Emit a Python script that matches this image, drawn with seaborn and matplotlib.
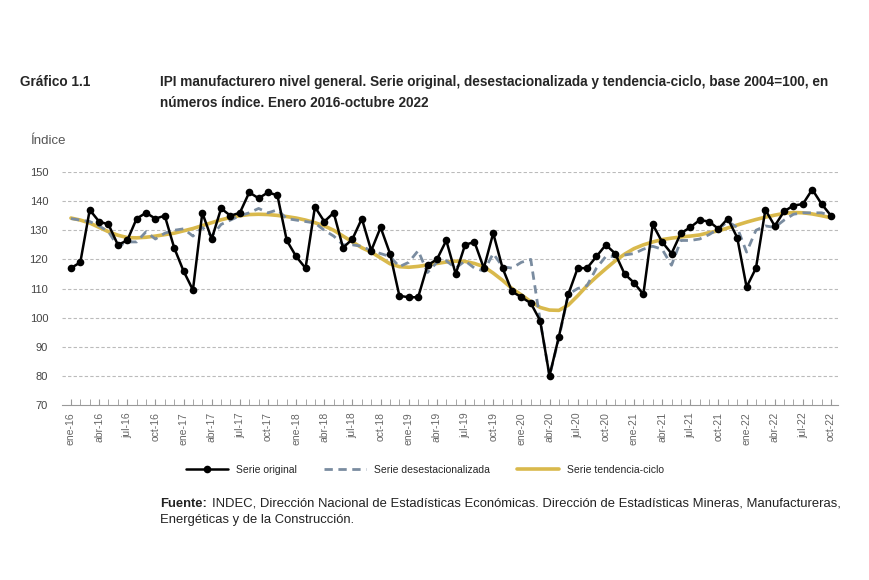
import numpy as np
import pandas as pd
import seaborn as sns
import matplotlib.pyplot as plt
from matplotlib import font_manager

meses = ['ene', 'feb', 'mar', 'abr', 'may', 'jun', 'jul', 'ago', 'sep', 'oct', 'nov', 'dic']
periodos = [f'{m}-{a}' for a in range(16, 23) for m in meses][:82]

original = [117, 119, 137, 133, 132, 125, 126.5, 134, 136, 134, 135, 124,
            116, 109.5, 136, 127, 137.5, 135, 136, 143, 141, 143, 142, 126.5,
            121, 117, 138, 133, 136, 124, 127, 134, 123, 131, 122, 107.5,
            107, 107, 118, 120, 126.5, 115, 125, 126, 117, 129, 117, 109,
            107, 105, 99, 80, 93.5, 108, 117, 117, 121, 125, 122, 115,
            112, 108, 132, 126, 122, 129, 131, 133.5, 133, 130.5, 134, 127.5,
            110.5, 117, 137, 131.5, 136.5, 138.5, 139, 144, 139, 135]

desest = [134, 133.5, 133, 131.5, 129.5, 124.5, 126, 126, 129.5, 127, 129, 130,
          130.5, 128, 131, 128, 132, 133.5, 135, 136, 137.5, 136, 137, 134,
          133.5, 133, 132.5, 130, 128, 125, 125, 124.5, 123, 122, 121, 117.5,
          119, 123, 115.5, 119, 119.5, 117, 119.5, 117, 116, 122, 117.5, 117,
          119, 120, 99, 80, 93, 108, 110, 111, 117, 121, 121, 121.5,
          122, 123.5, 124.5, 123.5, 118, 126.5, 126.5, 127, 128.5, 130.5, 133, 131,
          122.5, 130, 131.5, 131, 133.5, 135.5, 136, 136, 136, 135]

tendencia = [134.2, 133.5, 132.5, 131, 129.5, 128.3, 127.5, 127.4, 127.6, 128, 128.5, 129,
             129.8, 130.6, 131.6, 132.6, 133.6, 134.4, 135, 135.4, 135.5, 135.4, 135.1, 134.7,
             134.2, 133.5, 132.6, 131.5, 130, 128, 126, 124, 122.5, 120.5, 118.5, 117.5,
             117.3, 117.6, 118.1, 118.6, 119.1, 119.4, 119.3, 118.6, 117.5, 115.3, 112.8, 110,
             107.8, 105.5, 103.5, 102.6, 102.5, 104.3, 107.5, 111, 114, 116.8, 119.5, 121.8,
             123.7, 125, 126, 126.8, 127.3, 127.7, 128, 128.4, 129.2, 129.8, 130.8, 131.8,
             132.8, 133.7, 134.5, 135.2, 135.8, 136.1, 136, 135.6, 135, 134.3]

df = pd.DataFrame({'t': range(len(periodos)), 'original': original,
                   'desest': desest, 'tendencia': tendencia})

sns.set_style('white')
plt.rcParams['font.family'] = ['Liberation Sans', 'DejaVu Sans']

# titulo en fuente angosta si esta disponible
nombres = {f.name for f in font_manager.fontManager.ttflist}
if 'Liberation Sans Narrow' in nombres:
    fuente_tit, tam_tit = 'Liberation Sans Narrow', 11.5
else:
    fuente_tit, tam_tit = 'Liberation Sans', 9.8

fig = plt.figure(figsize=(8.7, 5.8), dpi=100)
ax = fig.add_axes([0.0713, 0.3017, 0.892, 0.4017])

sns.lineplot(data=df, x='t', y='tendencia', ax=ax, color='#d9b94c', lw=2.6,
             label='Serie tendencia-ciclo', zorder=2)
sns.lineplot(data=df, x='t', y='desest', ax=ax, color='#7a8ca0', lw=2,
             dashes=(3, 2), label='Serie desestacionalizada', zorder=3)
sns.lineplot(data=df, x='t', y='original', ax=ax, color='black', lw=1.8,
             marker='o', markersize=5.5, markeredgewidth=0,
             label='Serie original', zorder=4)

ax.set_xlim(-0.95, 81.75)
ax.set_ylim(70, 150)
ax.set_yticks(range(70, 151, 10))
ax.set_xticks(range(0, 82, 3))
ax.set_xticklabels(periodos[::3], rotation=90, fontsize=7.5, color='#666666')
ax.set_xticks(range(82), minor=True)
ax.tick_params(axis='x', which='both', direction='in', length=4, color='#999999', bottom=True, pad=5)
ax.tick_params(axis='y', length=0, labelsize=8, labelcolor='#444444', pad=10)
for y in range(80, 151, 10):
    ax.axhline(y, color='#bbbbbb', lw=0.8, ls=(0, (3, 2)), zorder=0)
for s in ['top', 'right', 'left']:
    ax.spines[s].set_visible(False)
ax.spines['bottom'].set_color('#999999')
ax.set_xlabel('')
ax.set_ylabel('')

h, l = ax.get_legend_handles_labels()
ax.legend(h[::-1], l[::-1], loc='center', bbox_to_anchor=(0.468, -0.279), ncol=3,
          frameon=False, fontsize=7.5, handlelength=4, columnspacing=2.6)

fig.text(20 / 870, 1 - 82 / 580, 'Gráfico 1.1', fontsize=tam_tit, fontweight='bold',
         family=fuente_tit, va='center')
fig.text(160 / 870, 1 - 82 / 580,
         'IPI manufacturero nivel general. Serie original, desestacionalizada y tendencia-ciclo, base 2004=100, en',
         fontsize=tam_tit, fontweight='bold', family=fuente_tit, va='center')
fig.text(160 / 870, 1 - 103 / 580, 'números índice. Enero 2016-octubre 2022',
         fontsize=tam_tit, fontweight='bold', family=fuente_tit, va='center')
fig.text(30 / 870, 1 - 141 / 580, 'Índice', fontsize=9.5, color='#555555', va='center')

fig.text(160 / 870, 1 - 507 / 580, 'Fuente:', fontsize=9.4, fontweight='bold',
         va='baseline', color='#222222')
fig.text(212 / 870, 1 - 507 / 580, 'INDEC, Dirección Nacional de Estadísticas Económicas. '
         'Dirección de Estadísticas Mineras, Manufactureras,', fontsize=9.4, va='baseline',
         color='#222222')
fig.text(160 / 870, 1 - 523 / 580, 'Energéticas y de la Construcción.', fontsize=9.4,
         va='baseline', color='#222222')

fig.savefig('out.png', dpi=100)
